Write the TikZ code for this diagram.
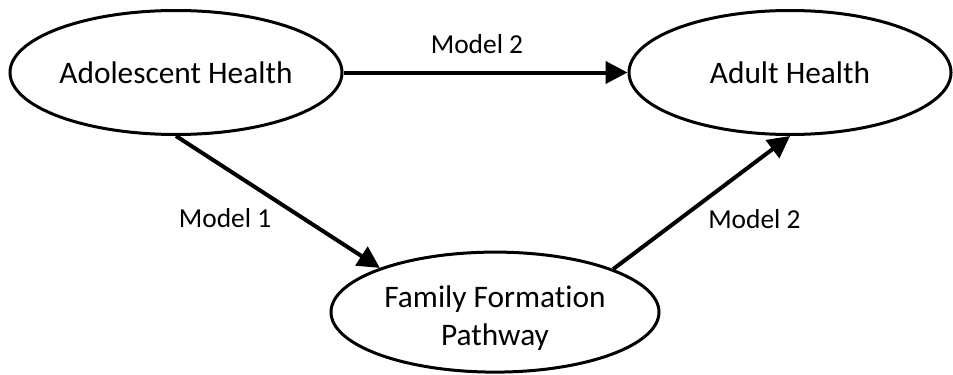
\documentclass[tikz,border=0pt]{standalone}
\usepackage{fontspec}
\setmainfont{Carlito}[Ligatures=NoCommon]
\usetikzlibrary{shapes.geometric, arrows.meta, positioning}

\begin{document}
\begin{tikzpicture}[->, >={Triangle[length=0.55cm, width=0.55cm]}, auto, node distance =5.99cm and 7.975cm, on grid, line width=0.1cm]
      \tikzstyle{health}=[ellipse, draw=black, line width=0.075cm, inner sep=0pt, align=center, font=\fontsize{22.3}{27.5}\selectfont]
      \tikzstyle{model}=[font=\fontsize{19.5}{23}\selectfont]
      \useasboundingbox (-4.4,1.8125) rectangle (19.425,-7.5375);
      \node[health, minimum width=8.3cm, minimum height=3.1cm] (AH) {Adolescent Health};
      \node[health, minimum width=8.05cm, minimum height=3.1cm] (AdH) [right =15.35cm of AH] {Adult Health};
      \node[health, minimum width=8.2cm, minimum height=3.0cm] (FF) [below right = of AH] {\rule{0pt}{0.84cm}Family Formation\\Pathway};
      \path (AH) edge node[model, pos=0.47, above =0.3cm] {Model 2} (AdH);
      \path (AH.south) edge node[model, swap] {Model 1} (FF.159);
      \path (FF.20) edge node[model, swap] {Model 2} (AdH.south);
    \end{tikzpicture}
\end{document}
